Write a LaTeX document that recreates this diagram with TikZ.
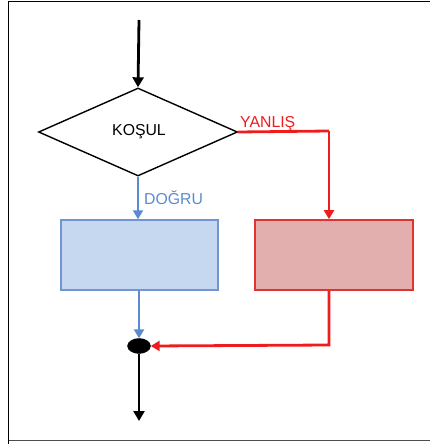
\documentclass[tikz,border=0pt]{standalone}
\usepackage{fontspec}
\setmainfont{Liberation Sans}
\usetikzlibrary{shapes.geometric,arrows.meta}
\definecolor{bfill}{HTML}{C6D8F0}
\definecolor{bline}{HTML}{6F95D2}
\definecolor{barrow}{HTML}{5A8AD0}
\definecolor{rfill}{HTML}{E2AEAE}
\definecolor{rline}{HTML}{E23232}
\definecolor{rarrow}{HTML}{EE1C1C}
\begin{document}
\begin{tikzpicture}[x=1pt,y=-1pt,
  lbl/.style={font=\fontsize{15.8}{17}\selectfont,inner sep=0pt},
  blk/.style={line width=2.8pt,black,-{Triangle[length=10pt,width=11pt]}},
  blu/.style={line width=2.5pt,barrow,-{Triangle[length=9pt,width=10pt]}},
  red/.style={line width=2.8pt,rarrow,-{Triangle[length=9pt,width=10pt]}},
  boxb/.style={draw=bline,fill=bfill,line width=1.5pt,minimum width=157pt,minimum height=70pt,inner sep=0pt},
  boxr/.style={draw=rline,fill=rfill,line width=1.7pt,minimum width=158pt,minimum height=70pt,inner sep=0pt},
  dec/.style={draw=black,line width=1.4pt,diamond,aspect=2.26,minimum width=199pt,minimum height=88pt,inner sep=0pt}]
\useasboundingbox (0,0) rectangle (430,444);
\draw[line width=1.5pt,black] (8.5,444) -- (8.5,1.5) -- (430,1.5);
\draw[line width=1.5pt,black!70] (8.5,440.5) -- (430,440.5);
\coordinate (start) at (139,20);
\node[dec] (cond) at (138,132) {};
\node[lbl] (kt) at (139,132) {KOŞUL};
\node[boxb] (yes) at (139.5,255) {};
\node[boxr] (no) at (334,255) {};
\node[draw=black,fill=black,ellipse,minimum width=23pt,minimum height=15pt,inner sep=0pt] (join) at (139,346) {};
\coordinate (end) at (139,421);
\coordinate (rc) at (329,131);
\coordinate (rj) at (329,345);
\draw[blk] (start) -- (cond.north);
\draw[blu] (cond.south) -- (yes.north -| cond.south);
\draw[red,-] (cond.east) -- (rc);
\draw[red] (rc) -- (rc |- no.north);
\draw[blu] (yes.south -| join) -- (join.north);
\draw[red] (no.south -| rj) -- (rj) -- (join.east);
\draw[blk] (join.south) -- (end);
\node[lbl,text=rarrow,anchor=south west] (f) at (240,131) {YANLIŞ};
\node[lbl,text=barrow,anchor=west] (t) at (144,198) {DOĞRU};
\end{tikzpicture}
\end{document}
